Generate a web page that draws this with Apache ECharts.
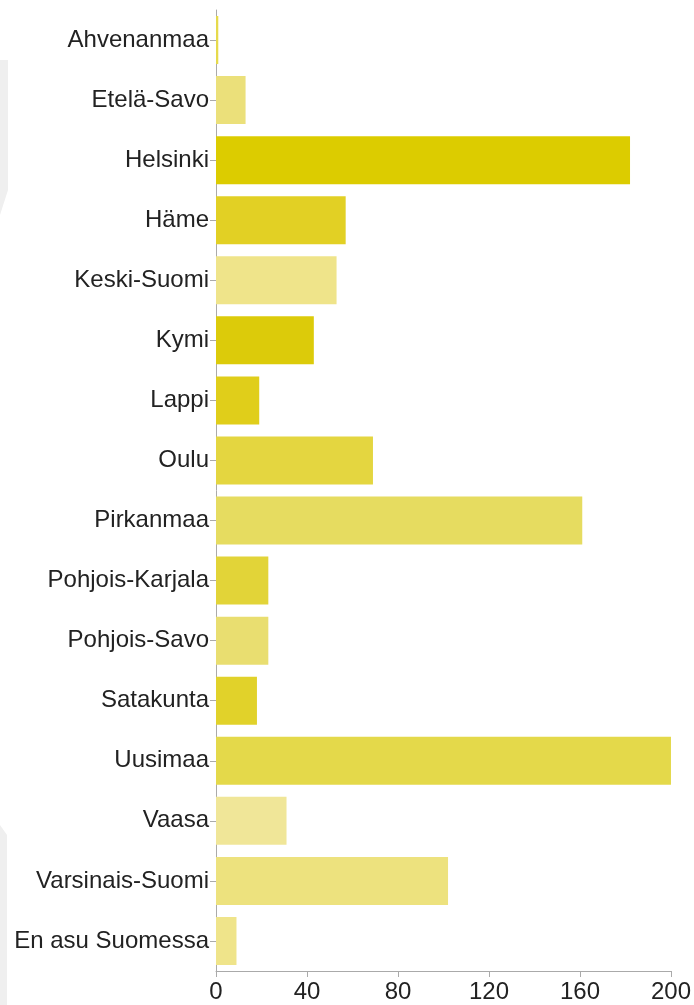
<!DOCTYPE html>
<html>
<head>
<meta charset="utf-8">
<script src="https://cdn.jsdelivr.net/npm/echarts@6/dist/echarts.min.js"></script>
<style>
  html, body { margin: 0; padding: 0; background: #fff; }
  #chart { width: 694px; height: 1005px; }
</style>
</head>
<body>
<div id="chart"></div>
<script>
const regions = [
  "Ahvenanmaa", "Etelä-Savo", "Helsinki", "Häme", "Keski-Suomi", "Kymi",
  "Lappi", "Oulu", "Pirkanmaa", "Pohjois-Karjala", "Pohjois-Savo",
  "Satakunta", "Uusimaa", "Vaasa", "Varsinais-Suomi", "En asu Suomessa"
];
const counts = [1, 13, 182, 57, 53, 43, 19, 69, 161, 23, 23, 18, 200, 31, 102, 9];
const barColors = [
  "#e6da4c", "#ebe07a", "#dccc00", "#e2d024", "#efe48a", "#dccb0a",
  "#e0ce1a", "#e4d640", "#e6dc60", "#e2d438", "#e9de70",
  "#e1d22a", "#e4d94a", "#f0e698", "#ede27e", "#efe48a"
];
const xTicks = [0, 40, 80, 120, 160, 200];

const chart = echarts.init(document.getElementById("chart"));

chart.setOption({
  animation: false,
  graphic: [
    {
      type: "polygon",
      silent: true,
      shape: { points: [[0, 60], [8, 60], [8, 190], [0, 215]] },
      style: { fill: "#efefef" }
    },
    {
      type: "polygon",
      silent: true,
      shape: { points: [[0, 825], [7, 835], [7, 1005], [0, 1005]] },
      style: { fill: "#efefef" }
    }
  ],
  grid: { left: 216, right: 19, top: 10, bottom: 34, containLabel: false },
  xAxis: {
    type: "value",
    min: xTicks[0],
    max: xTicks[xTicks.length - 1],
    interval: 40,
    axisLine: { show: true, lineStyle: { color: "#aaa", width: 1 } },
    axisTick: { show: true, length: 6, lineStyle: { color: "#aaa" } },
    axisLabel: {
      color: "#222",
      fontSize: 24,
      fontFamily: "Liberation Sans, Arial, sans-serif",
      margin: 9,
      showMaxLabel: true
    },
    splitLine: { show: false }
  },
  yAxis: {
    type: "category",
    inverse: true,
    data: regions,
    axisLine: { show: true, lineStyle: { color: "#aaa", width: 1 } },
    axisTick: { show: true, length: 6, alignWithLabel: true, lineStyle: { color: "#aaa" } },
    axisLabel: {
      color: "#222",
      fontSize: 24,
      fontFamily: "Liberation Sans, Arial, sans-serif",
      margin: 7
    }
  },
  series: [
    {
      type: "bar",
      data: counts.map((v, i) => ({ value: v, itemStyle: { color: barColors[i] } })),
      barCategoryGap: "20%"
    }
  ]
});
</script>
</body>
</html>
